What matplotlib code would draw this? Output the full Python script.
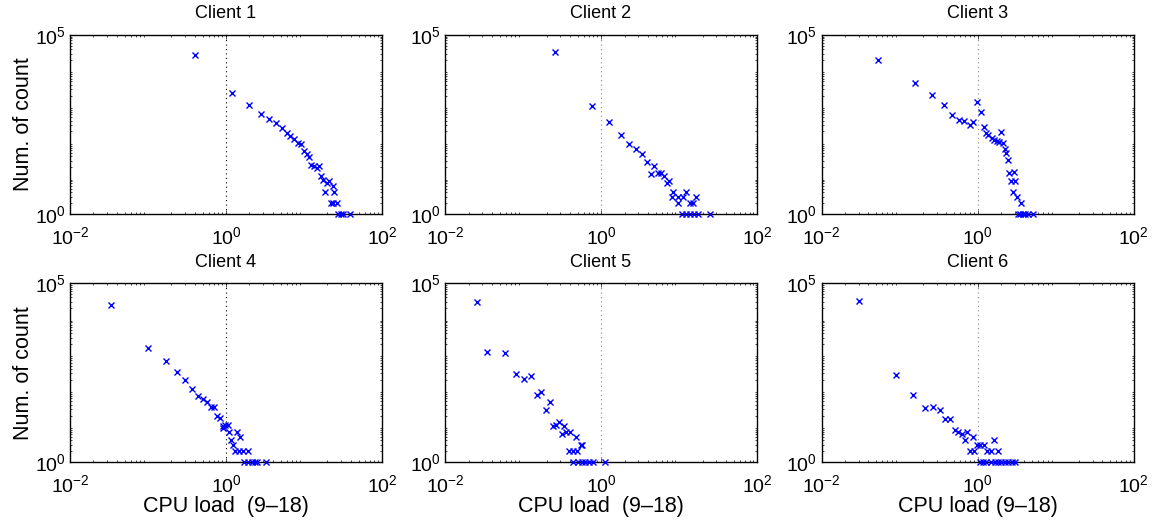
import matplotlib
matplotlib.use("Agg")
import matplotlib.pyplot as plt
from matplotlib.ticker import LogLocator, NullFormatter

# ── data (CPU load vs number of counts) ─────────────────────────────────────
clients = ["Client 1", "Client 2", "Client 3", "Client 4", "Client 5", "Client 6"]

load_c1 = [0.40, 1.18, 1.99, 2.79, 3.56, 4.33, 5.17, 6.0, 6.6, 7.44, 8.46, 9.06,
           10.0, 10.8, 11.5, 12.2, 13.4, 14.5, 15.4, 16.5, 17.7, 19.5, 21.1, 23.8,
           18.8, 24.3, 22.0, 23.8, 26.3, 27.5, 29.5, 31.8, 39.0]
count_c1 = [27900, 2350, 1110, 630, 440, 354, 247, 186, 150, 121, 97, 89,
            58, 47, 38, 23, 21, 19, 22, 11, 9, 7, 8, 6,
            4, 4, 2, 2, 2, 1, 1, 1, 1]

load_c2 = [0.257, 0.77, 1.28, 1.79, 2.31, 2.81, 3.32, 3.85, 4.82, 4.33, 5.43, 5.82,
           6.43, 7.08, 7.45, 8.3, 8.13, 9.8, 11.1, 12.4, 9.7, 13.8, 15.2, 16.5,
           10.8, 12.3, 13.8, 15.5, 17.3, 25.0]
count_c2 = [32300, 1040, 363, 163, 90, 66, 46, 28, 21, 13, 14, 14,
            11, 7, 8, 4, 3, 3, 3, 4, 2, 2, 2, 3,
            1, 1, 1, 1, 1, 1]

load_c3 = [0.0527, 0.157, 0.262, 0.37, 0.473, 0.575, 0.68, 0.79, 0.88, 0.99, 1.1, 1.2,
           1.3, 1.38, 1.54, 1.65, 1.79, 1.91, 2.03, 2.14, 2.22, 2.31, 2.48, 2.57,
           2.93, 2.7, 3.0, 2.87, 3.23, 3.63, 3.29, 3.5, 3.8, 4.1, 4.5, 5.2]
count_c3 = [20200, 4500, 2110, 1130, 570, 428, 400, 300, 363, 1370, 720, 263,
            179, 163, 132, 116, 111, 102, 190, 94, 65, 51, 31, 14,
            15, 8, 8, 4, 3, 2, 1, 1, 1, 1, 1, 1]

load_c4 = [0.0332, 0.1, 0.169, 0.236, 0.301, 0.37, 0.434, 0.50, 0.565, 0.636, 0.70, 0.76,
           0.83, 0.92, 0.98, 1.05, 0.906, 1.1, 1.37, 1.5, 1.17, 1.24, 1.32, 1.48,
           1.67, 1.91, 1.7, 1.93, 2.13, 2.35, 2.5, 3.26]
count_c4 = [24800, 1500, 676, 327, 195, 112, 71, 59, 47, 35, 34, 19,
            17, 10, 11, 11, 9, 7, 7, 5, 4, 3, 2, 2,
            2, 2, 1, 1, 1, 1, 1, 1]

load_c5 = [0.0257, 0.0349, 0.0582, 0.0813, 0.104, 0.127, 0.15, 0.172, 0.22, 0.195,
           0.245, 0.265, 0.29, 0.339, 0.316, 0.356, 0.40, 0.478, 0.555, 0.575,
           0.385, 0.434, 0.49, 0.44, 0.50, 0.566, 0.62, 0.71, 0.78, 1.13]
count_c5 = [29500, 1160, 1110, 293, 212, 247, 76, 92, 48, 29,
            10, 11, 13, 10, 6, 7, 7, 5, 3, 3,
            2, 2, 2, 1, 1, 1, 1, 1, 1, 1]

load_c6 = [0.0298, 0.0898, 0.148, 0.21, 0.268, 0.326, 0.386, 0.44, 0.51, 0.57, 0.63, 0.74,
           0.69, 0.87, 0.98, 1.08, 1.2, 1.62, 0.79, 0.906, 1.32, 1.48, 1.81,
           1.08, 1.17, 1.30, 1.50, 1.66, 1.83, 2.02, 2.23, 2.46, 2.80, 2.99]
count_c6 = [32000, 274, 74, 32, 34, 28, 16, 16, 8, 7, 6, 7,
            4, 5, 3, 3, 3, 4, 2, 2, 2, 2, 2,
            1, 1, 1, 1, 1, 1, 1, 1, 1, 1, 1]

loads = [load_c1, load_c2, load_c3, load_c4, load_c5, load_c6]
counts = [count_c1, count_c2, count_c3, count_c4, count_c5, count_c6]

x_ticks = [1e-2, 1e0, 1e2]
y_ticks = [1e0, 1e5]
x_labels = ["CPU load  (9\u201318)", "CPU load  (9\u201318)", "CPU load (9\u201318)"]


def main():
    plt.rcParams["font.family"] = ["Liberation Sans", "DejaVu Sans"]
    plt.rcParams["mathtext.default"] = "regular"

    fig = plt.figure(figsize=(11.53, 5.22), dpi=100)

    lefts = [0.0607, 0.3860, 0.7125]
    bottoms = [0.5906, 0.1149]
    width, height = 0.2706, 0.3425

    for i, name in enumerate(clients):
        row, col = divmod(i, 3)
        ax = fig.add_axes([lefts[col], bottoms[row], width, height])
        ax.set_xscale("log")
        ax.set_yscale("log")
        ax.set_xlim(1e-2, 1e2)
        ax.set_ylim(1e0, 1e5)

        line_col = "k" if col == 0 else "0.55"
        ax.axvline(1.0, color=line_col, linestyle=(0, (1, 3)), linewidth=0.8, zorder=1)

        ax.plot(loads[i], counts[i], linestyle="none", marker="x", color="#0000ff",
                markersize=4.5, markeredgewidth=1.0, clip_on=False, zorder=3)

        ax.set_xticks(x_ticks)
        ax.set_yticks(y_ticks)
        ax.xaxis.set_minor_locator(LogLocator(base=10, subs=range(2, 10), numticks=20))
        ax.yaxis.set_minor_locator(LogLocator(base=10, subs=range(2, 10), numticks=20))
        ax.xaxis.set_minor_formatter(NullFormatter())
        ax.yaxis.set_minor_formatter(NullFormatter())
        ax.tick_params(which="both", direction="in", top=True, right=True,
                       labelsize=14, width=0.5)
        ax.tick_params(which="major", length=3)
        ax.tick_params(which="minor", length=1.5)
        ax.tick_params(axis="x", pad=9)
        ax.tick_params(axis="y", pad=3)
        for sp in ax.spines.values():
            sp.set_linewidth(1.0)

        ax.set_title(name, fontsize=13, pad=12)
        if col == 0:
            ax.set_ylabel("Num. of count", fontsize=15.5)
            ax.yaxis.set_label_coords(-0.115, 0.5)
        if row == 1:
            ax.set_xlabel(x_labels[col], fontsize=15.5, labelpad=0)

    fig.savefig("out.png", dpi=100)


if __name__ == "__main__":
    main()
